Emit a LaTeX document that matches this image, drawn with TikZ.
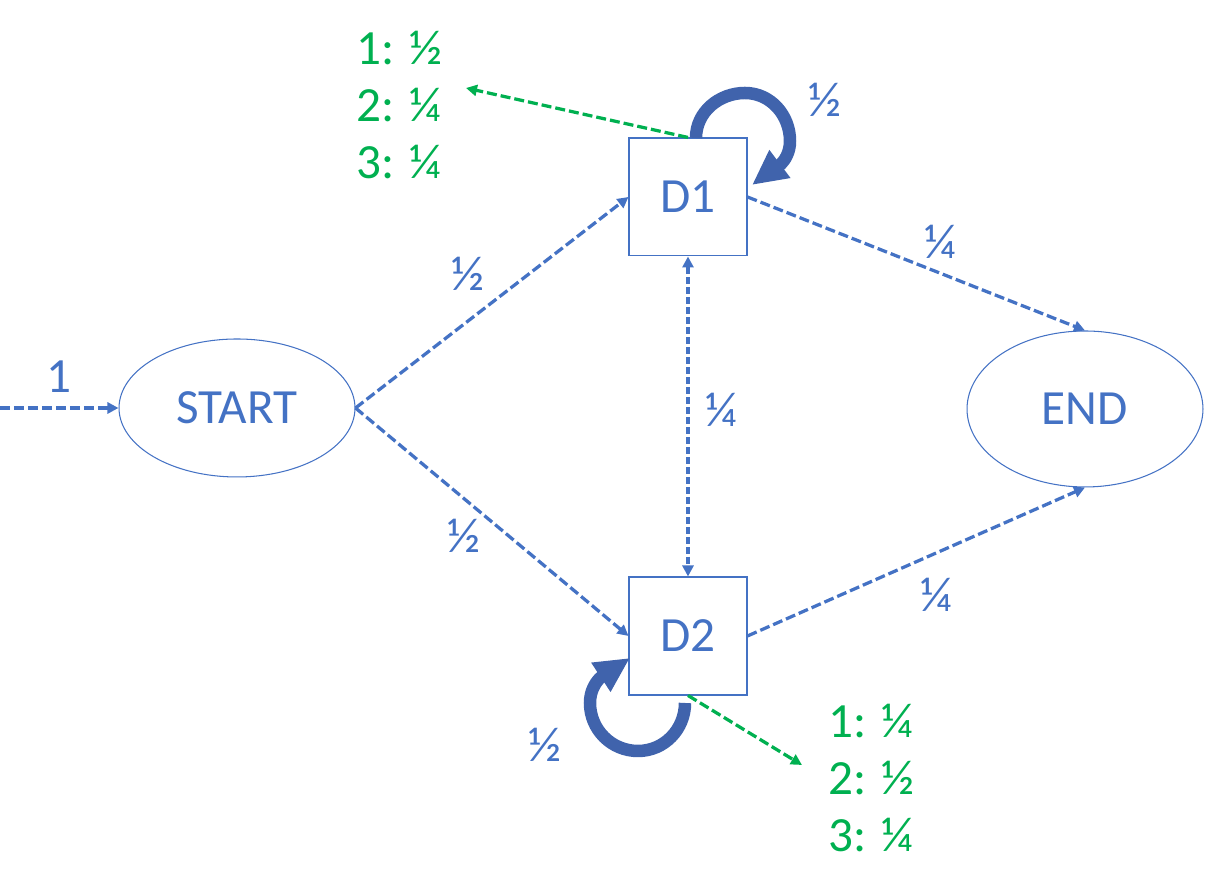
\documentclass[tikz,border=0pt]{standalone}
\usepackage{fontspec}
\setmainfont{Carlito}
\usetikzlibrary{arrows.meta,shapes.geometric}
\definecolor{lineblue}{RGB}{68,114,196}
\definecolor{loopblue}{RGB}{64,99,172}
\definecolor{probgreen}{RGB}{0,176,80}
\tikzset{
  every node/.style={font=\fontsize{28}{32.4}\selectfont},
  state/.style={draw=lineblue,line width=0.6pt,text=lineblue,minimum width=2.36cm,minimum height=2.36cm},
  term/.style={ellipse,draw=lineblue,line width=0.6pt,text=lineblue,minimum width=4.72cm},
  trans/.style={draw=lineblue,line width=0.065cm,dash pattern=on 0.2cm off 0.08cm,-{Triangle[length=0.22cm,width=0.22cm]}},
  emit/.style={trans,draw=probgreen},
  selfloop/.style={draw=loopblue,line width=0.25cm,-{Triangle[length=0.7cm,width=0.65cm]}},
  lab/.style={text=lineblue},
  probs/.style={text=probgreen,align=left}
}
\begin{document}
\begin{tikzpicture}[x=0.02cm,y=0.02cm]
          \useasboundingbox (0,0) rectangle (1205,891);
          \node[term,minimum height=2.76cm] (start) at (237,483) {START};
          \node[term,minimum height=3.12cm] (end) at (1085,482) {END};
          \node[state] (d1) at (688,694) {D1};
          \node[state] (d2) at (688,255) {D2};
          \coordinate (src) at (0,483);
          \coordinate (d1out) at (466,803);
          \coordinate (d2out) at (802,126);

          \draw[trans] (src) -- node[lab,above,yshift=0.16cm] (lin) {1} (start.west);
          \draw[trans] (start.east) -- node[lab,above left,yshift=0.1cm] (ls1) {½} (d1.west);
          \draw[trans] (start.east) -- node[lab,pos=0.53,below left,xshift=-0.24cm,yshift=0.34cm] (ls2) {½} (d2.west);
          \draw[trans,{Triangle[length=0.22cm,width=0.22cm]}-{Triangle[length=0.22cm,width=0.22cm]},dash pattern=on 0.14cm off 0.06cm] (d1.south) -- node[lab,pos=0.48,right,xshift=0.2cm] (l12) {¼} (d2.north);
          \draw[trans] (d1.east) -- node[lab,pos=0.57,above,yshift=0.15cm] (l1e) {¼} (end.north);
          \draw[trans] (d2.east) -- node[lab,pos=0.56,below,yshift=-0.35cm] (l2e) {¼} (end.south);

          \draw[selfloop] (696,753) to[out=90,in=180] (745,798) to[out=0,in=90] (790,750) to[out=-90,in=37] (752,706);
          \node[lab] (l11) at (825,791) {½};
          \draw[selfloop] (685,188) to[out=-90,in=0] (638,140) to[out=180,in=-90] (590,188) to[out=90,in=213.5] (630,233);
          \node[lab] (l22) at (545,146) {½};

          \draw[emit] (d1.north) -- (d1out);
          \node[probs,anchor=west] (d1probs) at (350,786) {1: ½\\2: ¼\\3: ¼};
          \draw[emit] (d2.south) -- (d2out);
          \node[probs,anchor=west] (d2probs) at (822,113) {1: ¼\\2: ½\\3: ¼};
        \end{tikzpicture}
\end{document}
